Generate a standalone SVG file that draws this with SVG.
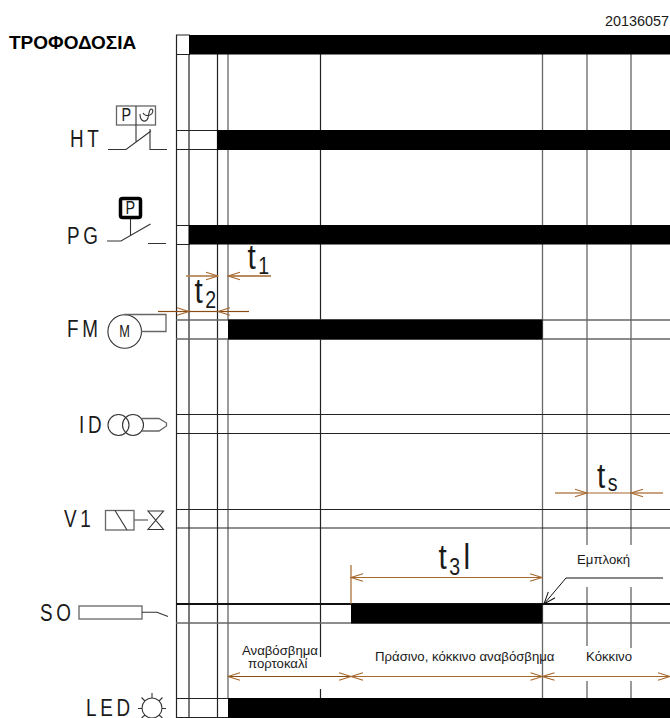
<svg xmlns="http://www.w3.org/2000/svg" width="670" height="718" viewBox="0 0 670 718">
<style>
text{font-family:"Liberation Sans",Arial,sans-serif;fill:#1a1a1a}
.g{stroke:#222;stroke-width:1.2;fill:none}
.m{stroke:#666;stroke-width:1.3;fill:none}
.s{stroke:#333;stroke-width:1.1;fill:none}
.a{stroke:#a5672c;stroke-width:1.2;fill:none}
.lt{stroke:#b98a5c;stroke-width:1.8;fill:none}
.dk{stroke:#8a4d14;stroke-width:1.2;fill:none}
.lab{font-size:23px;letter-spacing:4.5px}
.sm{font-size:13.2px}
.t{font-size:35px}
.sub{font-size:23px}
</style>
<defs>
<marker id="ah" markerUnits="userSpaceOnUse" markerWidth="14" markerHeight="10" refX="13" refY="5" orient="auto-start-reverse" viewBox="0 0 14 10">
<path d="M1 1.300L13 5L1 8.700" fill="none" stroke="#a5672c" stroke-width="1.1"/>
</marker>
<marker id="ak" markerUnits="userSpaceOnUse" markerWidth="14" markerHeight="10" refX="13" refY="5" orient="auto" viewBox="0 0 14 10">
<path d="M1 0.500L13 5L1 9.500" fill="none" stroke="#111" stroke-width="1"/>
</marker>
</defs>
<text x="669" y="26" text-anchor="end" style="font-size:14.400px">20136057</text>
<text x="9" y="49" style="font-size:19px;font-weight:bold;fill:#000">ΤΡΟΦΟΔΟΣΙΑ</text>

<g id="grid">
<path class="g" d="M176.500 35V718M189 54V718M217.500 54V718"/>
<path class="m" d="M228 54V320"/>
<path class="m" d="M228 339V698"/>
<path class="g" d="M320.500 54V657M320.500 689V698"/>
<path class="m" d="M542.500 54V698M587 54V545M631 54V545M587 587V646M631 587V648M587 681V698M631 681V698"/>
<path class="g" d="M176 35H190M176 54.500H190M176 130.500H670M176 149.500H670M176 225.500H190M176 244.500H190"/>
<path class="m" d="M176 320H670M176 339H670"/>
<path class="g" d="M176 414.500H670M176 433.500H670M176 509.500H670M176 528H670"/>
<path d="M176 604H670" stroke="#111" stroke-width="2" fill="none"/>
<path class="m" d="M176 623H670"/>
<path class="g" d="M176 698.500H670M176 717.500H229"/>
</g>

<g id="bars" fill="#000">
<rect x="189" y="35" width="481" height="19.500"/>
<rect x="217" y="130" width="453" height="20"/>
<rect x="189" y="225" width="481" height="19.500"/>
<rect x="228" y="319.500" width="314.500" height="20"/>
<rect x="351" y="604" width="191.500" height="19.500"/>
<rect x="228" y="698" width="442" height="20"/>
</g>

<g id="connectors">
<path class="lt" d="M186 276H218" marker-end="url(#ah)"/>
<path class="lt" d="M271 276H228" marker-end="url(#ah)"/>
<path class="dk" d="M158 311.500H189" marker-end="url(#ah)"/>
<path class="dk" d="M189 311.500H217.500"/>
<path class="dk" d="M249 311.500H218" marker-end="url(#ah)"/>
<path class="a" d="M555 493H587" marker-end="url(#ah)"/>
<path class="a" d="M587 493H631"/>
<path class="a" d="M663 493H631" marker-end="url(#ah)"/>
<path class="a" d="M351 565V604"/>
<path class="a" d="M351 577.500H542" marker-start="url(#ah)" marker-end="url(#ah)"/>
<path class="dk" d="M228 676.500H351" marker-start="url(#ah)" marker-end="url(#ah)"/>
<path class="a" d="M351 676.500H542.500" marker-start="url(#ah)" marker-end="url(#ah)"/>
<path class="a" d="M542.500 676.500H670" marker-start="url(#ah)" marker-end="url(#ah)"/>
<path d="M663 578H566L544 604" fill="none" stroke="#111" stroke-width="1" marker-end="url(#ak)"/>
</g>

<g id="timing-labels">
<text class="t" transform="translate(247.500 269) scale(.85 1)">t<tspan class="sub" dx="3" dy="5">1</tspan></text>
<text class="t" transform="translate(194.500 303) scale(.85 1)">t<tspan class="sub" dx="3" dy="5">2</tspan></text>
<text class="t" transform="translate(597 488) scale(.85 1)">t<tspan class="sub" dx="3" dy="3">s</tspan></text>
<text class="t" transform="translate(438.500 569) scale(.85 1)">t<tspan class="sub" dx="3" dy="6">3</tspan><tspan dx="4" dy="-6">l</tspan></text>
<text class="sm" x="577" y="564">Εμπλοκή</text>
<text class="sm" x="242" y="654.700">Αναβόσβημα</text>
<text class="sm" x="248" y="668">πορτοκαλί</text>
<text class="sm" x="375" y="660.700">Πράσινο, κόκκινο αναβόσβημα</text>
<text class="sm" x="586" y="661">Κόκκινο</text>
</g>

<g id="HT">
<text class="lab" transform="translate(70 147) scale(.82 1)">HT</text>
<rect class="m" x="116.500" y="106" width="39" height="19"/>
<path class="s" d="M136 106V141.500M108 149.500H126L151 131M150 129V149.500H167"/>
<text transform="translate(121.500 121) scale(.8 1)" style="font-size:18px">P</text>
<path class="s" d="M140 114C140 122 146 123 148 118C149 113 149 110 151 109C154 109 153 114 150 115C147 116 144 115 143 113"/>
</g>
<g id="PG">
<text class="lab" transform="translate(67 243.500) scale(.82 1)">PG</text>
<rect x="120.500" y="198.500" width="20" height="19" rx="2" fill="none" stroke="#000" stroke-width="3.500"/>
<text transform="translate(125.500 214) scale(.8 1)" style="font-size:18px">P</text>
<path class="s" d="M130.500 219V236M107 241H121L150.500 224M148 243.500H166"/>
</g>
<g id="FM">
<text class="lab" transform="translate(67 337) scale(.82 1)">FM</text>
<circle class="s" cx="124.700" cy="331.500" r="16.800"/>
<text transform="translate(124.500 337) scale(.75 1)" text-anchor="middle" style="font-size:17px">M</text>
<path class="m" d="M124 314.500H166V331.500H141"/>
</g>
<g id="ID">
<text class="lab" transform="translate(79 433) scale(.82 1)">ID</text>
<circle class="s" cx="118.500" cy="425" r="10.500"/>
<circle class="s" cx="133" cy="425" r="10.500"/>
<path class="m" d="M142 418.500H159L166.500 423V426L159 431H142"/>
</g>
<g id="V1">
<text class="lab" transform="translate(64 527) scale(.82 1)">V1</text>
<rect class="m" x="105.500" y="510.500" width="28.500" height="19.500"/>
<path class="s" d="M115 510.500L127 530"/>
<path class="m" d="M134 520H148"/>
<path class="s" d="M148 511H163.500L148 529.500H163.500Z"/>
</g>
<g id="SO">
<text class="lab" transform="translate(40 621) scale(.82 1)">SO</text>
<rect class="m" x="79" y="606" width="63" height="13"/>
<path class="s" d="M142 612.300H157L168 616.500"/>
</g>
<g id="LED">
<text class="lab" transform="translate(86 716) scale(.82 1)">LED</text>
<circle class="s" cx="152" cy="708" r="10"/>
<path class="s" d="M152 693V698M141.500 697.500L145 701M162.500 697.500L159 701M138 708.500H142M162 708.500H166M141.500 718L145 715M162.500 718L159 715"/>
</g>
</svg>
